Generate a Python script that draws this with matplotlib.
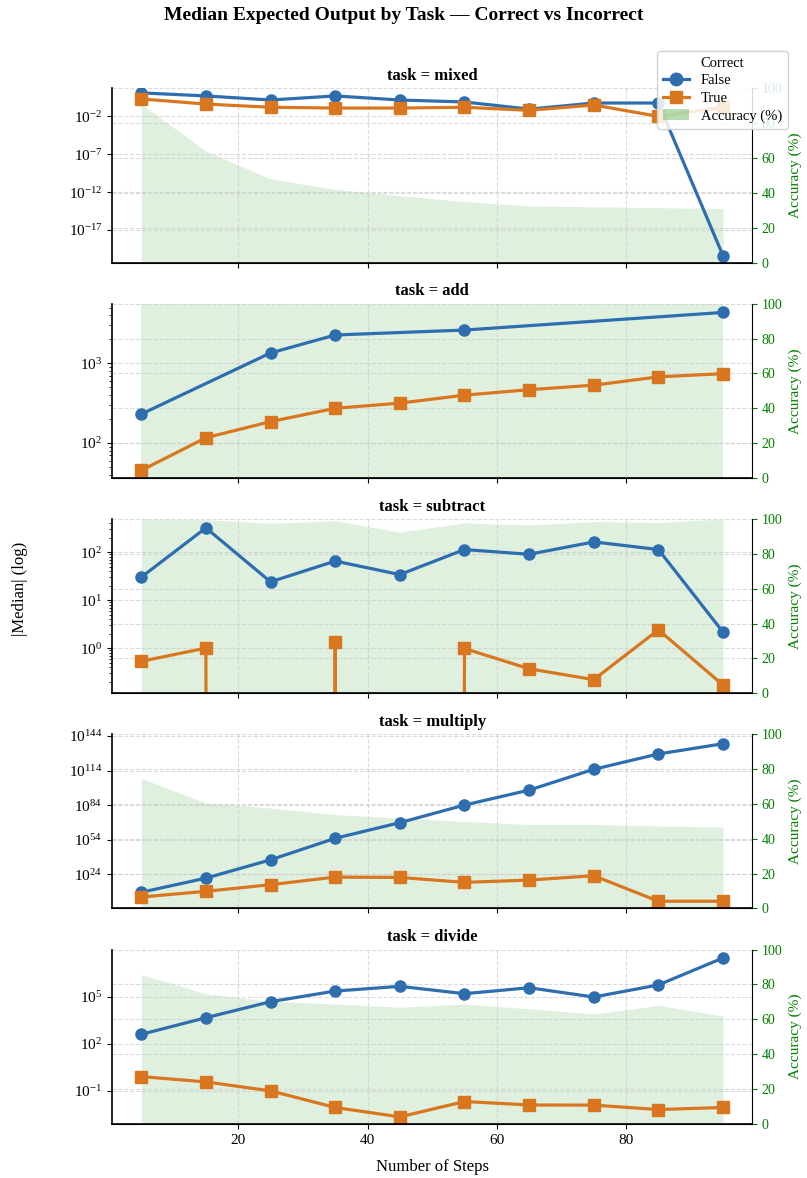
import matplotlib
matplotlib.use("Agg")
import matplotlib.pyplot as plt
from matplotlib.patches import Patch
from matplotlib.lines import Line2D

plt.rcParams['font.family'] = ['Liberation Serif', 'DejaVu Serif']
plt.rcParams['mathtext.fontset'] = 'stix'

steps = [5, 15, 25, 35, 45, 55, 65, 75, 85, 95]
tasks = ['mixed', 'add', 'subtract', 'multiply', 'divide']

# |median| values, False = incorrect, True = correct
mixed_false = [12.6, 5.0, 1.45, 5.0, 1.45, 0.8, 0.09, 0.58, 0.58, 4e-21]
mixed_true = [2.0, 0.42, 0.16, 0.126, 0.126, 0.16, 0.063, 0.32, 0.01, 0.16]
add_steps_false = [5, 25, 35, 55, 95]
add_false = [230, 1350, 2270, 2620, 4360]
add_true = [45, 116, 185, 272, 316, 398, 466, 531, 676, 741]
sub_false = [30, 320, 24, 65, 34, 113, 90, 163, 113, 2.15]
sub_true = [0.53, 1.0, 0, 1.33, 0, 0.98, 0.37, 0.22, 2.4, 0.17]
mul_false_exp = [8.2, 20.5, 36.4, 55.1, 68.7, 84.0, 97.0, 115.1, 128.4, 137.3]
mul_true_exp = [4.1, 9.0, 14.8, 21.4, 21.1, 16.8, 18.8, 22.6, 0.4, 0.4]
div_false_exp = [2.6, 3.66, 4.68, 5.36, 5.66, 5.19, 5.57, 4.98, 5.75, 7.47]
div_true_exp = [-0.09, -0.43, -1.0, -2.06, -2.66, -1.68, -1.9, -1.91, -2.19, -2.06]

# accuracy (%)
acc = {
    'mixed': [91, 64, 48, 42, 38.4, 35, 32.5, 32, 31.5, 31],
    'add': [100, 100, 100, 100, 100, 100, 100, 100, 100, 100],
    'subtract': [100, 99.6, 97.5, 99, 92.5, 97.7, 96.5, 98.5, 98, 100],
    'multiply': [74.7, 60.6, 57.7, 53.9, 52, 50, 48.2, 48.2, 47.4, 46.7],
    'divide': [85.7, 74.7, 70.3, 68.8, 66.9, 68.8, 66, 63, 68, 61.9],
}

series = {
    'mixed': ((steps, mixed_false), (steps, mixed_true)),
    'add': ((add_steps_false, add_false), (steps, add_true)),
    'subtract': ((steps, sub_false), (steps, sub_true)),
    'multiply': ((steps, [10.0 ** e for e in mul_false_exp]),
                 (steps, [10.0 ** e for e in mul_true_exp])),
    'divide': ((steps, [10.0 ** e for e in div_false_exp]),
               (steps, [10.0 ** e for e in div_true_exp])),
}

ylims = {
    'mixed': (10 ** -21.3, 10 ** 1.7),
    'add': (10 ** 1.56, 10 ** 3.75),
    'subtract': (10 ** -0.94, 10 ** 2.69),
    'multiply': (10 ** -5.9, 10 ** 145.5),
    'divide': (10 ** -3.1, 10 ** 8.0),
}
yticks = {
    'mixed': [1e-17, 1e-12, 1e-7, 1e-2],
    'multiply': [1e24, 1e54, 1e84, 1e114, 1e144],
    'divide': [1e-1, 1e2, 1e5],
}

blue = '#2e6eae'
orange = '#d8771f'
green_fill = 'tab:green'

fig, axes = plt.subplots(5, 1, figsize=(8.07, 11.78), dpi=100, sharex=True)
fig.subplots_adjust(left=0.139, right=0.932, top=0.925, bottom=0.046, hspace=0.236)

for ax, task in zip(axes, tasks):
    ax2 = ax.twinx()
    ax2.fill_between(steps, 0, acc[task], color=green_fill, alpha=0.15, linewidth=0)
    ax2.set_ylim(0, 100)
    ax2.set_ylabel('Accuracy (%)', color='green', fontsize=11)
    ax2.tick_params(axis='y', colors='green', labelsize=10)
    ax2.grid(True, axis='y', linestyle='--', color='#cccccc', alpha=0.7, linewidth=0.8)
    ax2.spines['top'].set_visible(False)
    ax2.spines['left'].set_visible(False)

    ax.set_zorder(ax2.get_zorder() + 1)
    ax.patch.set_visible(False)

    (xf, yf), (xt, yt) = series[task]
    ax.plot(xf, yf, color=blue, marker='o', markersize=8, linewidth=2.3)
    ax.plot(xt, yt, color=orange, marker='s', markersize=8, linewidth=2.3)
    ax.set_yscale('log')
    ax.set_ylim(*ylims[task])
    if task in yticks:
        ax.set_yticks(yticks[task])
        ax.minorticks_off()
    ax.set_title(f'task = {task}', fontweight='bold', fontsize=12)
    ax.grid(True, linestyle='--', color='#cccccc', alpha=0.7, linewidth=0.8)
    ax.spines['top'].set_visible(False)
    ax.spines['right'].set_visible(False)
    ax.tick_params(labelsize=11)
    for s in ['left', 'bottom']:
        ax.spines[s].set_linewidth(1.2)

axes[-1].set_xticks([20, 40, 60, 80])
axes[-1].set_xlabel('Number of Steps', fontsize=12, labelpad=9)

fig.text(0.025, 0.5, '|Median| (log)', rotation=90, va='center', ha='center', fontsize=12)
fig.suptitle('Median Expected Output by Task — Correct vs Incorrect',
             fontweight='bold', fontsize=14, y=0.994)

handles = [
    Line2D([], [], color=blue, marker='o', markersize=9, linewidth=2.3),
    Line2D([], [], color=orange, marker='s', markersize=9, linewidth=2.3),
    Patch(facecolor=green_fill, alpha=0.35),
]
fig.legend(handles, ['False', 'True', 'Accuracy (%)'], title='Correct',
           loc='upper right', bbox_to_anchor=(0.985, 0.963), fontsize=10.5,
           title_fontsize=10.5, framealpha=0.85, labelspacing=0.3,
           handlelength=1.8, borderpad=0.4)

fig.savefig('out.png', dpi=100)
